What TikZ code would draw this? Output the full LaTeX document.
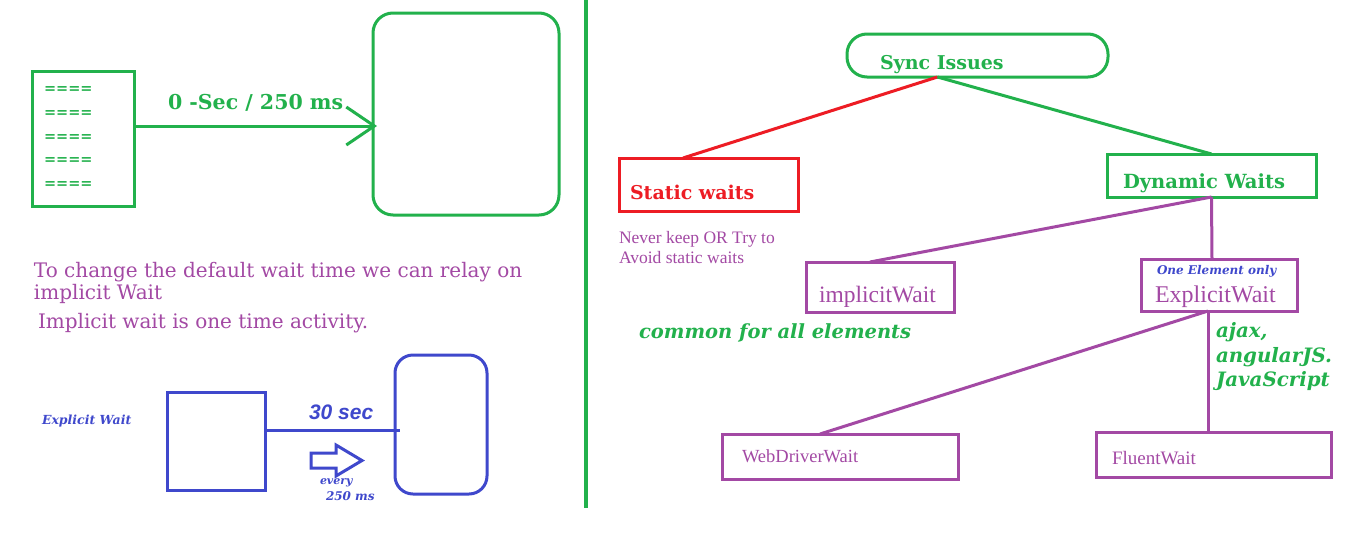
\documentclass[tikz,border=0pt]{standalone}
\usepackage{fontspec}
\setmainfont{DejaVu Serif}
\newfontfamily\tms{Liberation Serif}
\newfontfamily\sns{Liberation Sans}
\usetikzlibrary{arrows.meta,calc}
\definecolor{pgreen}{HTML}{22B14C}
\definecolor{pred}{HTML}{ED1C24}
\definecolor{ppurple}{HTML}{A349A4}
\definecolor{pblue}{HTML}{3F48CC}
\newcommand\fsz[1]{\fontsize{#1}{#1}\selectfont}
\begin{document}
\begin{tikzpicture}[x=1pt,y=-1pt,
  box/.style={draw=#1, line width=3pt, inner sep=0pt, outer sep=0pt},
  txt/.style={inner sep=0pt, outer sep=0pt, anchor=base west, text=#1},
  conn/.style={draw=#1, line width=3pt}]
\fill[white] (0,0) rectangle (1350,555);
\useasboundingbox (0,0) rectangle (1350,555);

% ---------- left top ----------
\node[box=pgreen, minimum width=102, minimum height=135] (doc) at (83,138.5) {};
\foreach \yy [count=\i] in {90,114,138,161,185}
  \node[txt=pgreen, anchor=west] (eq\i) at (44,\yy) {\bfseries\fsz{14.5}====};
\node[box=pgreen, rounded corners=20pt, minimum width=186, minimum height=202] (scr) at (466,114) {};
\draw[conn=pgreen, -{Straight Barb[length=28pt,width=38pt,line width=3pt]}] ([yshift=12.5pt]doc.east) -- ([xshift=4pt,yshift=-12pt]scr.west);
\node[txt=pgreen] (lbl0) at (168,109) {\bfseries\fsz{20.5}0 -Sec / 250 ms};

% divider
\coordinate (dtop) at (586,0);
\coordinate (dbot) at (586,508);
\draw[pgreen, line width=4pt] (dtop) -- (dbot);

% ---------- left middle text ----------
\node[txt=ppurple] (p1) at (34,277) {\fsz{20}To change the default wait time we can relay on};
\node[txt=ppurple] (p2) at (34,299) {\fsz{20}implicit Wait};
\node[txt=ppurple] (p3) at (38,328) {\fsz{20}Implicit wait is one time activity.};

% ---------- left bottom ----------
\node[box=pblue, minimum width=98, minimum height=98] (sq) at (216,441) {};
\node[box=pblue, rounded corners=18pt, minimum width=92, minimum height=139] (scr2) at (441,424.5) {};
\draw[conn=pblue] ([yshift=11pt]sq.east) -- ([xshift=5pt,yshift=-5.5pt]scr2.west);
\draw[pblue, line width=3pt, line join=miter] (311,453) -- (336,453) -- (336,445) -- (362,460.5) -- (336,476) -- (336,468) -- (311,468) -- cycle;
\node[txt=pblue] (t30) at (309,419) {\sns\bfseries\itshape\fsz{21}30 sec};
\node[txt=pblue] (tev) at (320,484) {\bfseries\itshape\fsz{11}every};
\node[txt=pblue] (t250) at (326,500) {\bfseries\itshape\fsz{12}250 ms};
\node[txt=pblue] (tex) at (42,424) {\bfseries\itshape\fsz{12.5}Explicit Wait};

% ---------- right tree ----------
\node[box=pgreen, rounded corners=20pt, minimum width=261, minimum height=43] (sync) at (977.5,55.5) {};
\node[txt=pgreen] (tsync) at (880,69) {\bfseries\fsz{19}Sync Issues};
\node[box=pred, minimum width=179, minimum height=53] (static) at (708.5,184.5) {};
\node[txt=pred] (tstatic) at (630,199) {\bfseries\fsz{19}Static waits};
\node[box=pgreen, minimum width=209, minimum height=43] (dyn) at (1211.5,175.5) {};
\node[txt=pgreen] (tdyn) at (1123,188) {\bfseries\fsz{19.5}Dynamic Waits};

\draw[conn=pred] ([xshift=-40pt]sync.south) -- ([xshift=-25.5pt]static.north);
\draw[conn=pgreen] ([xshift=-40pt]sync.south) -- (dyn.north);

\node[txt=ppurple] (never1) at (619,243) {\tms\fsz{17.5}Never keep OR Try to};
\node[txt=ppurple] (never2) at (619,263) {\tms\fsz{17.5}Avoid static waits};

\node[box=ppurple, minimum width=148, minimum height=50] (imp) at (880,287) {};
\node[txt=ppurple] (timp) at (819,302) {\tms\fsz{23.5}implicitWait};
\node[box=ppurple, minimum width=156, minimum height=52] (exp) at (1219,285) {};
\node[txt=ppurple] (texp) at (1155,302) {\tms\fsz{24}ExplicitWait};
\node[txt=pblue] (tone) at (1157,274) {\bfseries\itshape\fsz{12}One Element only};

\draw[conn=ppurple] (dyn.south) -- ([xshift=-10pt]imp.north);
\draw[conn=ppurple] (dyn.south) -- ([xshift=-7pt]exp.north);

\node[txt=pgreen] (tcommon) at (639,338) {\bfseries\itshape\fsz{19.5}common for all elements};
\node[txt=pgreen] (taj1) at (1216,337) {\bfseries\itshape\fsz{19.8}ajax,};
\node[txt=pgreen] (taj2) at (1216,362) {\bfseries\itshape\fsz{19.8}angularJS.};
\node[txt=pgreen] (taj3) at (1216,386) {\bfseries\itshape\fsz{19.8}JavaScript};

\node[box=ppurple, minimum width=236, minimum height=45] (wdw) at (840,456.5) {};
\node[txt=ppurple] (twdw) at (742,462) {\tms\fsz{18.5}WebDriverWait};
\node[box=ppurple, minimum width=235, minimum height=45] (flu) at (1213.5,454.5) {};
\node[txt=ppurple] (tflu) at (1112,464) {\tms\fsz{19}FluentWait};

\draw[conn=ppurple] ([xshift=-11pt]exp.south) -- ([xshift=-20pt]wdw.north);
\draw[conn=ppurple] ([xshift=-11pt]exp.south) -- ([xshift=-5.5pt]flu.north);
\end{tikzpicture}
\end{document}
